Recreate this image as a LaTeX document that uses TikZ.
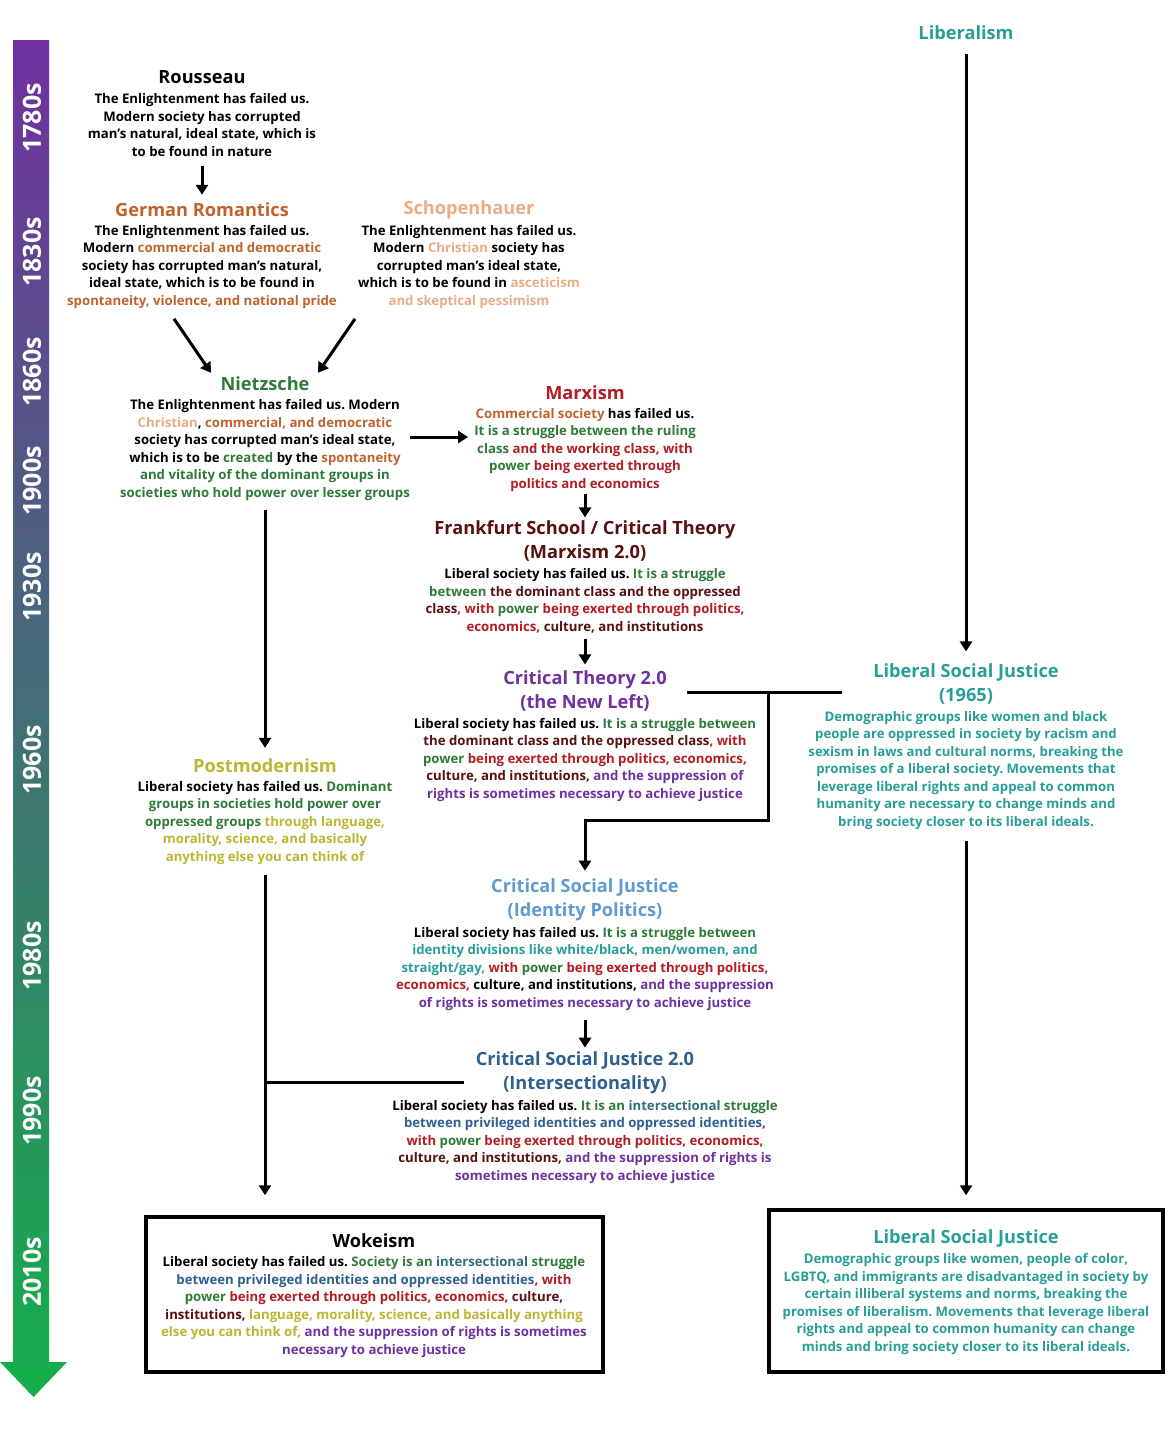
\documentclass[tikz,border=0pt]{standalone}
\usepackage{fontspec}
\setmainfont{Open Sans}
\usetikzlibrary{arrows.meta,calc}
\frenchspacing
\definecolor{cBr}{RGB}{191,99,45}
\definecolor{cPe}{RGB}{233,172,135}
\definecolor{cGr}{RGB}{47,122,56}
\definecolor{cRd}{RGB}{178,28,34}
\definecolor{cMa}{RGB}{88,16,16}
\definecolor{cPu}{RGB}{112,48,160}
\definecolor{cOl}{RGB}{188,182,48}
\definecolor{cLb}{RGB}{95,155,210}
\definecolor{cTe}{RGB}{40,158,152}
\definecolor{cDb}{RGB}{45,95,145}
\definecolor{cIn}{RGB}{48,112,122}
\definecolor{barTop}{RGB}{112,48,160}
\definecolor{barMid}{RGB}{80,118,132}
\definecolor{barBot}{RGB}{20,175,75}
\newcommand{\txbr}[1]{\textcolor{cBr}{#1}}
\newcommand{\txpe}[1]{\textcolor{cPe}{#1}}
\newcommand{\txgr}[1]{\textcolor{cGr}{#1}}
\newcommand{\txrd}[1]{\textcolor{cRd}{#1}}
\newcommand{\txma}[1]{\textcolor{cMa}{#1}}
\newcommand{\txpu}[1]{\textcolor{cPu}{#1}}
\newcommand{\txol}[1]{\textcolor{cOl}{#1}}
\newcommand{\txte}[1]{\textcolor{cTe}{#1}}
\newcommand{\txdb}[1]{\textcolor{cDb}{#1}}
\newcommand{\txin}[1]{\textcolor{cIn}{#1}}
\tikzset{
  body/.style={font=\bfseries\fontsize{13.2}{17.5}\selectfont\frenchspacing, align=center, inner sep=0pt},
  ttl/.style={font=\bfseries\fontsize{18.2}{24}\selectfont, align=center, inner sep=0pt},
  yr/.style={font=\bfseries\fontsize{25}{25}\selectfont, text=white, rotate=90, inner sep=0pt},
  arr/.style={line width=3pt, -{Triangle[width=12pt,length=10pt]}},
  conn/.style={line width=3pt},
  frame/.style={draw, line width=3.5pt, inner sep=0pt, fill=white}
}
\begin{document}
\begin{tikzpicture}[x=1pt,y=-1pt]
\useasboundingbox[fill=white] (0,0) rectangle (1173,1440);

% timeline bar
\shade[top color=barTop, middle color=barMid, bottom color=barBot]
  (13,40) -- (49,40) -- (49,1362) -- (67,1362) -- (33.5,1397) -- (0,1362) -- (13,1362) -- cycle;
\node[yr] (y1780) at (32,118) {1780s};
\node[yr] (y1830) at (32,252) {1830s};
\node[yr] (y1860) at (32,372) {1860s};
\node[yr] (y1900) at (32,481) {1900s};
\node[yr] (y1930) at (32,587) {1930s};
\node[yr] (y1960) at (32,760) {1960s};
\node[yr] (y1980) at (32,956) {1980s};
\node[yr] (y1990) at (32,1111) {1990s};
\node[yr] (y2010) at (32,1272) {2010s};

% Rousseau
\node[ttl] (rousT) at (202,77) {Rousseau};
\node[body] (rousB) at (202,125) {The Enlightenment has failed us.\\Modern society has corrupted\\man’s natural, ideal state, which is\\to be found in nature};

% German Romantics
\node[ttl, text=cBr] (germT) at (202,210) {German Romantics};
\node[body] (germB) at (202,267) {The Enlightenment has failed us.\\Modern \txbr{commercial and democratic}\\society has corrupted man’s natural,\\ideal state, which is to be found in\\\txbr{spontaneity, violence, and national pride}};

% Schopenhauer
\node[ttl, text=cPe] (schT) at (469,210) {Schopenhauer};
\node[body] (schB) at (469,267) {The Enlightenment has failed us.\\Modern \txpe{Christian} society has\\corrupted man’s ideal state,\\which is to be found in \txpe{asceticism}\\\txpe{and skeptical pessimism}};

% Nietzsche
\node[ttl, text=cGr] (nietT) at (265,384) {Nietzsche};
\node[body] (nietB) at (265,450) {The Enlightenment has failed us. Modern\\\txpe{Christian}, \txbr{commercial, and democratic}\\society has corrupted man’s ideal state,\\which is to be \txgr{created} by the \txbr{spontaneity}\\\txgr{and vitality of the dominant groups in}\\\txgr{societies who hold power over lesser groups}};

% Marxism
\node[ttl, text=cRd] (marxT) at (585,393) {Marxism};
\node[body] (marxB) at (585,450) {\txbr{Commercial society} has failed us.\\\txgr{It is a struggle between the ruling}\\\txgr{class} \txrd{and the working class, with}\\\txgr{power} \txrd{being exerted through}\\\txrd{politics and economics}};

% Frankfurt School
\node[ttl, text=cMa] (frkT) at (585,541) {Frankfurt School / Critical Theory\\(Marxism 2.0)};
\node[body] (frkB) at (585,601) {Liberal society has failed us. \txgr{It is a struggle}\\\txgr{between} \txma{the dominant class and the oppressed}\\\txma{class}\txrd{, with} \txgr{power} \txrd{being exerted through politics,}\\\txrd{economics,} \txma{culture, and institutions}};

% Critical Theory 2.0
\node[ttl, text=cPu] (ct2T) at (585,691) {Critical Theory 2.0\\(the New Left)};
\node[body] (ct2B) at (585,760) {Liberal society has failed us. \txgr{It is a struggle between}\\\txma{the dominant class and the oppressed class}\txrd{, with}\\\txgr{power} \txrd{being exerted through politics, economics,}\\\txma{culture, and institutions,} \txpu{and the suppression of}\\\txpu{rights is sometimes necessary to achieve justice}};

% Postmodernism
\node[ttl, text=cOl] (pmT) at (265,766) {Postmodernism};
\node[body] (pmB) at (265,823) {Liberal society has failed us. \txgr{Dominant}\\\txgr{groups in societies hold power over}\\\txgr{oppressed groups} \txol{through language,}\\\txol{morality, science, and basically}\\\txol{anything else you can think of}};

% Critical Social Justice
\node[ttl, text=cLb] (csjT) at (585,900) {Critical Social Justice\\(Identity Politics)};
\node[body] (csjB) at (585,969) {Liberal society has failed us. \txgr{It is a struggle between}\\\txte{identity divisions like white/black, men/women, and}\\\txte{straight/gay,} \txrd{with} \txgr{power} \txrd{being exerted through politics,}\\\txrd{economics,} culture, and institutions, \txpu{and the suppression}\\\txpu{of rights is sometimes necessary to achieve justice}};

% Critical Social Justice 2.0
\node[ttl, text=cDb] (csj2T) at (585,1073) {Critical Social Justice 2.0\\(Intersectionality)};
\node[body] (csj2B) at (585,1142) {Liberal society has failed us. \txgr{It is an} \txin{intersectional} \txgr{struggle}\\\txdb{between privileged identities and oppressed identities}\txrd{,}\\\txrd{with} \txgr{power} \txrd{being exerted through politics, economics,}\\\txma{culture, and institutions,} \txpu{and the suppression of rights is}\\\txpu{sometimes necessary to achieve justice}};

% Wokeism
\node[frame, minimum width=457pt, minimum height=155pt] (wokeBox) at (374.5,1294.5) {};
\node[ttl] (wokeT) at (374,1241) {Wokeism};
\node[body] (wokeB) at (374,1307) {Liberal society has failed us. \txgr{Society is an} \txin{intersectional} \txgr{struggle}\\\txdb{between privileged identities and oppressed identities}\txrd{, with}\\\txgr{power} \txrd{being exerted through politics, economics,} \txma{culture,}\\\txma{institutions,} \txol{language, morality, science, and basically anything}\\\txol{else you can think of,} \txpu{and the suppression of rights is sometimes}\\\txpu{necessary to achieve justice}};

% Liberalism
\node[ttl, text=cTe] (libT) at (966,33) {Liberalism};
\node[ttl, text=cTe] (lsj65T) at (966,684) {Liberal Social Justice\\(1965)};
\node[body, text=cTe] (lsj65B) at (966,770.5) {Demographic groups like women and black\\people are oppressed in society by racism and\\sexism in laws and cultural norms, breaking the\\promises of a liberal society. Movements that\\leverage liberal rights and appeal to common\\humanity are necessary to change minds and\\bring society closer to its liberal ideals.};

\node[frame, minimum width=394pt, minimum height=162pt] (lsjBox) at (966,1291) {};
\node[ttl, text=cTe] (lsjT) at (966,1238) {Liberal Social Justice};
\node[body, text=cTe] (lsjB) at (966,1304) {Demographic groups like women, people of color,\\LGBTQ, and immigrants are disadvantaged in society by\\certain illiberal systems and norms, breaking the\\promises of liberalism. Movements that leverage liberal\\rights and appeal to common humanity can change\\minds and bring society closer to its liberal ideals.};

% connectors
\draw[arr, shorten <=9pt, shorten >=8pt] (rousB) -- (germT);
\draw[arr] ([xshift=-28pt,yshift=-10pt]germB.south) -- ([xshift=-54pt,yshift=4pt]nietT.north);
\draw[arr] ([xshift=-114pt,yshift=-10pt]schB.south) -- ([xshift=53pt,yshift=4pt]nietT.north);
\draw[arr] ([yshift=13pt]nietB.east) -- ([xshift=-6pt,yshift=13pt]marxB.west);
\draw[arr, shorten <=2pt, shorten >=3pt] (marxB) -- (frkT);
\draw[arr, shorten <=6pt, shorten >=6pt] (frkB) -- (ct2T);
\coordinate (jn) at (768,692);
\coordinate (jb) at (768,820);
\draw[conn] (ct2T.east |- jn) ++(20,0) -- ($(lsj65T.west |- jn)+(-31,0)$);
\draw[arr] (jn) -- (jb) -| ([yshift=8pt]csjT.north);
\draw[arr, shorten <=9pt, shorten >=11pt] (nietB) -- (pmT);
\draw[arr] ([yshift=-10pt]pmB.south) -- ($(pmB.south |- wokeBox.north)+(0,-20)$);
\draw[conn] ($(pmB.south |- csj2T.west)+(0,9)$) -- ($(csj2T.west)+(-12,9)$);
\draw[arr, shorten <=9pt, shorten >=4pt] (csjB) -- (csj2T);
\draw[arr, shorten <=14pt, shorten >=12pt] (libT) -- (lsj65T);
\draw[arr, shorten <=11pt, shorten >=13pt] (lsj65B) -- (lsjBox);
\end{tikzpicture}
\end{document}
